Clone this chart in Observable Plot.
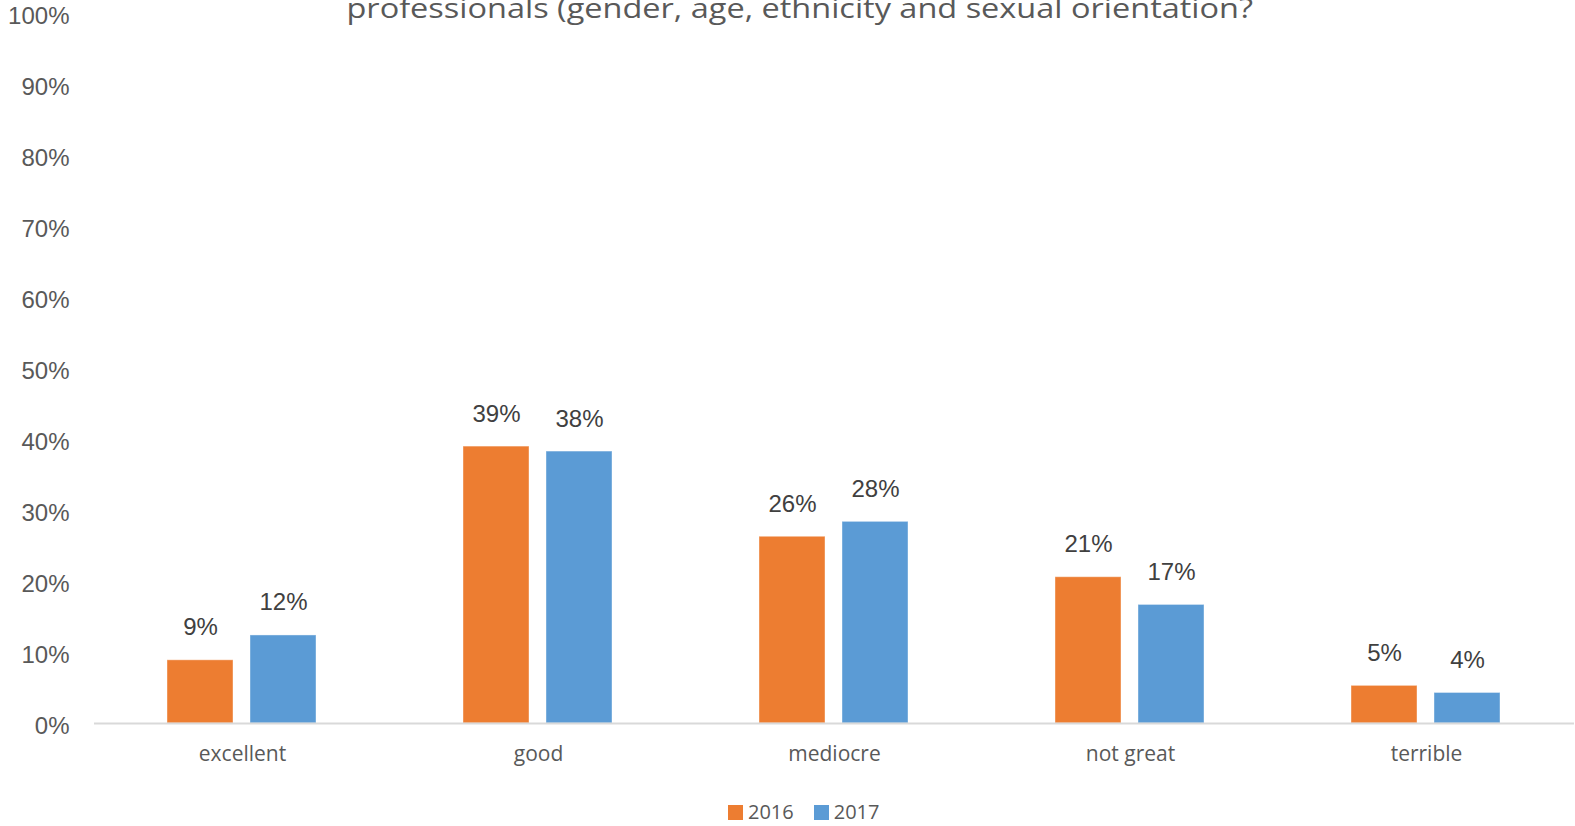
<!DOCTYPE html>
<html>
<head>
<meta charset="utf-8">
<script src="https://cdn.jsdelivr.net/npm/d3@7"></script>
<script src="https://cdn.jsdelivr.net/npm/@observablehq/plot@0.6"></script>
<style>
  html, body { margin: 0; padding: 0; background: #fff; width: 1575px; height: 826px; overflow: hidden; position: relative; }
  #title { position: absolute; top: -7px; left: 12px; width: 1575px; text-align: center; font-family: "Open Sans", sans-serif; font-size: 28px; line-height: 1; color: #595959; white-space: nowrap; }
  #title span { display: inline-block; transform: scaleX(1.16); transform-origin: center; }
  #legend { position: absolute; top: 802px; left: 728px; display: flex; align-items: center; font-family: "Open Sans", sans-serif; font-size: 20px; color: #595959; line-height: 1; }
  #legend .sw { width: 15px; height: 15px; display: inline-block; margin-right: 5px; }
  #legend .item { display: flex; align-items: center; margin-right: 20px; }
</style>
</head>
<body>
<div id="chart"></div>
<div id="title"><span>professionals (gender, age, ethnicity and sexual orientation?</span></div>
<div id="legend"></div>
<script>
const categories = ["excellent", "good", "mediocre", "not great", "terrible"];
const years = ["2016", "2017"];
const values2016 = [8.9, 39.0, 26.3, 20.6, 5.3];
const values2017 = [12.4, 38.3, 28.4, 16.7, 4.3];
const yTicks = [0, 10, 20, 30, 40, 50, 60, 70, 80, 90, 100];
const colors = ["#ED7D31", "#5B9BD5"];

const data = [];
categories.forEach((c, i) => {
  data.push({category: c, year: years[0], value: values2016[i]});
  data.push({category: c, year: years[1], value: values2017[i]});
});

const plot = Plot.plot({
  width: 1575,
  height: 790,
  marginLeft: 92,
  marginRight: 0,
  marginTop: 13,
  marginBottom: 67,
  style: {fontFamily: "'Liberation Sans', Arial, sans-serif", background: "#fff"},
  fx: {domain: categories, padding: 0},
  x: {domain: years, paddingInner: 0.2024, paddingOuter: 0.867, axis: null},
  y: {domain: [0, 100]},
  color: {domain: years, range: colors},
  marks: [
    Plot.barY(data, {fx: "category", x: "year", y: "value", fill: "year", stroke: "#fff", strokeOpacity: 0.4, strokeWidth: 1}),
    Plot.ruleY([0], {stroke: "#d9d9d9", strokeWidth: 2}),
    Plot.text(data, {fx: "category", x: "year", y: "value", text: d => Math.round(d.value) + "%", lineAnchor: "bottom", dy: -25, fontSize: 24, fill: "#404040"}),
    Plot.axisY({ticks: yTicks, tickFormat: d => d + "%", tickSize: 0, tickPadding: 25, fontSize: 24, color: "#595959", dy: 3, label: null}),
    Plot.axisFx({anchor: "bottom", tickSize: 0, tickPadding: 23, fontSize: 21, fontFamily: "'Open Sans', sans-serif", color: "#595959", label: null})
  ]
});
document.getElementById("chart").appendChild(plot);

const legend = document.getElementById("legend");
years.forEach((y, i) => {
  const item = document.createElement("div");
  item.className = "item";
  const sw = document.createElement("span");
  sw.className = "sw";
  sw.style.background = colors[i];
  const t = document.createElement("span");
  t.textContent = y;
  item.appendChild(sw);
  item.appendChild(t);
  legend.appendChild(item);
});
</script>
</body>
</html>
